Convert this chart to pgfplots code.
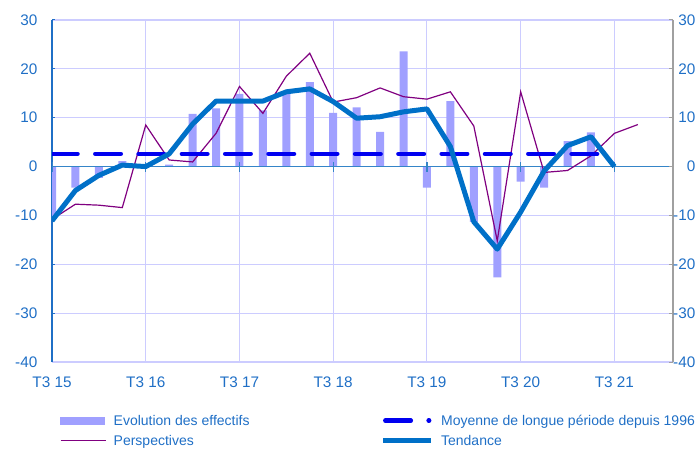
\documentclass[border=0pt]{standalone}
\usepackage{fontspec}
\setmainfont{Liberation Sans}
\usepackage{pgfplots}
\pgfplotsset{compat=1.18}
\definecolor{barcol}{HTML}{A0A0FF}
\definecolor{perscol}{HTML}{800080}
\definecolor{tendcol}{HTML}{0070C8}
\definecolor{moycol}{HTML}{0000F0}
\definecolor{gridcol}{HTML}{CCCCFF}
\definecolor{txtcol}{HTML}{1F6FC6}
\definecolor{zerocol}{HTML}{3585C8}
\definecolor{rightcol}{HTML}{A0A0A0}
\begin{document}
\begin{tikzpicture}
\useasboundingbox (0,0) rectangle (696pt,448pt);
\begin{axis}[
  at={(52pt,86pt)}, anchor=south west,
  scale only axis, width=621pt, height=342pt,
  xmin=0, xmax=26.5, ymin=-40, ymax=30,
  axis x line*=bottom, axis y line*=left,
  x axis line style={-, draw=gridcol, line width=1.2pt},
  y axis line style={-, draw=txtcol, line width=1.2pt},
  xtick={0,4,...,24},
  xticklabels={T3 15,T3 16,T3 17,T3 18,T3 19,T3 20,T3 21},
  ytick={-40,-30,...,30},
  grid=major,
  major grid style={draw=gridcol, line width=1.1pt},
  xtick style={draw=none},
  ytick style={draw=txtcol, line width=1pt},
  tick align=inside, major tick length=3pt,
  /pgf/number format/assume math mode=true,
  ticklabel style={font=\fontsize{15.3}{18}\selectfont, text=txtcol, inner sep=0pt},
  yticklabel style={anchor=east, xshift=-14.5pt},
  xticklabel style={anchor=north, yshift=-14.7pt},
  legend columns=2,
  legend cell align=left,
  legend style={
    at={(axis description cs:0,0)}, anchor=north west, xshift=8pt, yshift=-53.7pt,
    draw=none, fill=none, inner sep=0pt, outer sep=0pt,
    font=\fontsize{14}{16}\selectfont, text=txtcol,
    row sep=9.5pt,
    nodes={inner sep=0pt, text height=10pt, text depth=0pt},
    /tikz/every odd column/.append style={column sep=7.5pt},
    /tikz/every even column/.append style={column sep=131pt},
  },
]
\addplot[ybar, bar width=8pt, fill=barcol, draw=none, forget plot] coordinates {
(0,-10.3) (1,-4.3) (2,-2.3) (3,1.1) (4,0.0) (5,0.4) (6,10.8) (7,11.9)
(8,14.9) (9,11.5) (10,15.2) (11,17.3) (12,11.0) (13,12.1) (14,7.1) (15,23.6)
(16,-4.3) (17,13.4) (18,-11.3) (19,-22.7) (20,-3.1) (21,-4.3) (22,5.2) (23,7.0)
};
\draw[zerocol, line width=1.3pt] (axis cs:0,0) -- (axis cs:26.5,0);
\pgfplotsinvokeforeach{0,4,...,24}{
  \draw[zerocol, line width=1.2pt] ([yshift=-5pt]axis cs:#1,0) -- ([yshift=5pt]axis cs:#1,0);
}
\addplot[perscol, line width=1.2pt, forget plot] coordinates {
(0,-10.8) (1,-7.7) (2,-7.9) (3,-8.4) (4,8.5) (5,1.35) (6,0.95) (7,6.8)
(8,16.4) (9,10.9) (10,18.5) (11,23.2) (12,13.2) (13,14.1) (14,16.1) (15,14.3)
(16,13.8) (17,15.3) (18,8.3) (19,-15.2) (20,15.3) (21,-1.2) (22,-0.8) (23,2.2)
(24,6.8) (25,8.6)
};
\addplot[moycol, line width=4.5pt, line cap=round, dash pattern=on 25.5pt off 17.8pt, forget plot] coordinates {
(0,2.6) (24,2.6)
};
\addplot[tendcol, line width=5pt, line join=round, forget plot] coordinates {
(0,-11.1) (1,-4.9) (2,-1.8) (3,0.3) (4,0.0) (5,2.6) (6,8.7) (7,13.4)
(8,13.4) (9,13.4) (10,15.3) (11,15.9) (12,13.3) (13,9.9) (14,10.2) (15,11.2)
(16,11.8) (17,4.1) (18,-11.3) (19,-16.9) (20,-9.3) (21,-0.9) (22,4.3) (23,6.1)
(24,0.0)
};
\addlegendimage{legend image code/.code={\fill[barcol] (0pt,-3.5pt) rectangle (44pt,3.5pt);}}
\addlegendentry{Evolution des effectifs}
\addlegendimage{legend image code/.code={\draw[moycol, line width=4.5pt, line cap=round, dash pattern=on 25.5pt off 17.8pt] (2.2pt,0pt) -- (46pt,0pt);}}
\addlegendentry{Moyenne de longue période depuis 1996}
\addlegendimage{legend image code/.code={\draw[perscol, line width=1.2pt] (0pt,0pt) -- (45pt,0pt);}}
\addlegendentry{Perspectives}
\addlegendimage{legend image code/.code={\draw[tendcol, line width=5pt] (0pt,0pt) -- (48pt,0pt);}}
\addlegendentry{Tendance}
\end{axis}
\begin{axis}[
  at={(52pt,86pt)}, anchor=south west,
  scale only axis, width=621pt, height=342pt,
  xmin=0, xmax=26.5, ymin=-40, ymax=30,
  axis x line=none, axis y line*=right,
  y axis line style={-, draw=rightcol, line width=1.2pt},
  ytick={-40,-30,...,30},
  ytick style={draw=rightcol, line width=1pt},
  tick align=inside, major tick length=4.3pt,
  /pgf/number format/assume math mode=true,
  yticklabel style={font=\fontsize{15.3}{18}\selectfont, text=txtcol, inner sep=0pt, anchor=east, xshift=22.5pt},
]
\end{axis}
\end{tikzpicture}
\end{document}
